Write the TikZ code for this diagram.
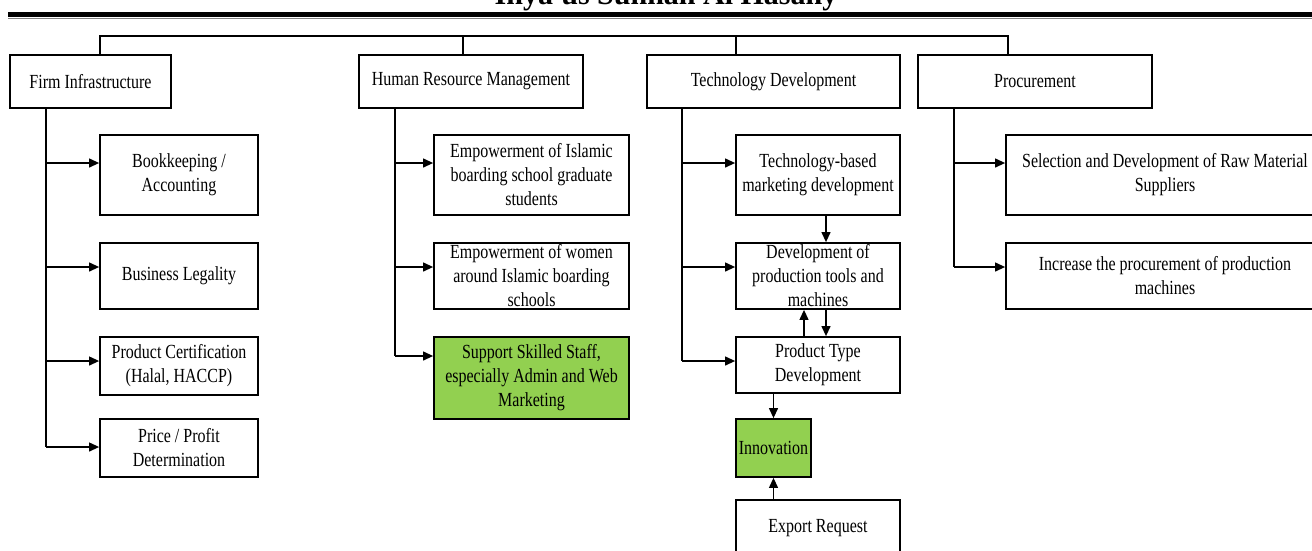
\documentclass[tikz,border=0pt]{standalone}
\usepackage{fontspec}
\setmainfont{Liberation Serif}[FakeStretch=0.8]
\newfontfamily\titlefont{Liberation Serif}
\usetikzlibrary{arrows.meta}
\definecolor{leafgreen}{HTML}{92D050}
\tikzset{
  box/.style={draw, line width=1.8pt, align=center, inner sep=0pt, font=\fontsize{20}{24}\selectfont},
  link/.style={line width=1.2pt},
  arr/.style={line width=1.2pt, -{Triangle[length=10pt,width=9pt]}}
}

\begin{document}
\begin{tikzpicture}[x=1pt,y=-1pt]
\useasboundingbox (0,0) rectangle (1312,550);
\node[font=\titlefont\bfseries\fontsize{30}{36}\selectfont, anchor=base] (title) at (666,4) {Ihya'us Sunnah Al Hasany};
\draw[line width=5pt] (8,14.5) -- (1312,14.5);
\draw[line width=1.5pt, gray] (8,18.5) -- (1312,18.5);

% top row
\node[box, minimum width=161pt, minimum height=53pt] (firm) at (90.5,81.5) {Firm Infrastructure};
\node[box, minimum width=224pt, minimum height=53pt] (hrm) at (471,81.5) {Human Resource Management};
\node[box, minimum width=253pt, minimum height=53pt] (tech) at (773.5,81.5) {Technology Development};
\node[box, minimum width=234pt, minimum height=53pt] (proc) at (1035,81.5) {Procurement};
\draw[line width=2pt] (99,36) -- (1009,36);
\foreach \n/\x in {firm/100,hrm/463,tech/736,proc/1008}
  \draw[link] (\x,36) -- (\n.north -| \x,0);

% firm infrastructure
\node[box, minimum width=158pt, minimum height=80pt] (book) at (179,175) {Bookkeeping /\\Accounting};
\node[box, minimum width=158pt, minimum height=66pt] (legal) at (179,276) {Business Legality};
\node[box, minimum width=158pt, minimum height=58pt] (cert) at (179,366) {Product Certification\\(Halal, HACCP)};
\node[box, minimum width=158pt, minimum height=58pt] (price) at (179,448) {Price / Profit\\Determination};
\draw[link] (firm.south -| 46,0) -- (46,447);
\foreach \y/\n in {163/book,267/legal,361/cert,447/price}
  \draw[arr] (46,\y) -- (\n.west |- 0,\y);

% human resource management
\node[box, minimum width=195pt, minimum height=80pt] (grad) at (531.5,175) {Empowerment of Islamic\\boarding school graduate\\students};
\node[box, minimum width=195pt, minimum height=66pt] (women) at (531.5,276) {Empowerment of women\\around Islamic boarding\\schools};
\node[box, fill=leafgreen, minimum width=195pt, minimum height=82pt] (staff) at (531.5,378) {Support Skilled Staff,\\especially Admin and Web\\Marketing};
\draw[link] (hrm.south -| 395,0) -- (395,356);
\foreach \y/\n in {163/grad,267/women,356/staff}
  \draw[arr] (395,\y) -- (\n.west |- 0,\y);

% technology development
\node[box, minimum width=164pt, minimum height=80pt] (mkt) at (818,175) {Technology-based\\marketing development};
\node[box, minimum width=164pt, minimum height=66pt] (tools) at (818,276) {Development of\\production tools and\\machines};
\node[box, minimum width=164pt, minimum height=56pt] (ptype) at (818,365) {Product Type\\Development};
\node[box, fill=leafgreen, minimum width=75pt, minimum height=58pt] (innov) at (773.5,448) {Innovation};
\node[box, minimum width=164pt, minimum height=56pt] (export) at (818,528) {Export Request};
\draw[link] (tech.south -| 682,0) -- (682,361);
\foreach \y/\n in {163/mkt,267/tools,361/ptype}
  \draw[arr] (682,\y) -- (\n.west |- 0,\y);
\draw[arr] (mkt.south -| 826,0) -- (tools.north -| 826,0);
\draw[arr] (ptype.north -| 804,0) -- (tools.south -| 804,0);
\draw[arr] (tools.south -| 826,0) -- (ptype.north -| 826,0);
\draw[arr] (ptype.south -| innov.north) -- (innov.north);
\draw[arr] (export.north -| innov.south) -- (innov.south);

% procurement
\node[box, minimum width=318pt, minimum height=80pt] (raw) at (1165,175) {Selection and Development of Raw Material\\Suppliers};
\node[box, minimum width=318pt, minimum height=66pt] (mach) at (1165,276) {Increase the procurement of production\\machines};
\draw[link] (proc.south -| 954,0) -- (954,267);
\foreach \y/\n in {163/raw,267/mach}
  \draw[arr] (954,\y) -- (\n.west |- 0,\y);
\end{tikzpicture}
\end{document}
